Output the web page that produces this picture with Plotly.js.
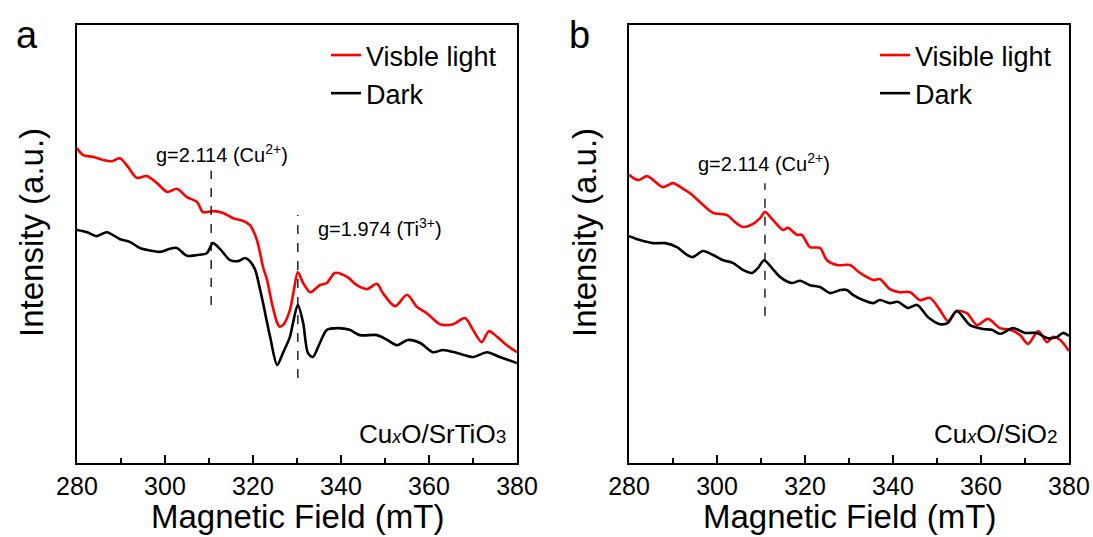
<!DOCTYPE html>
<html>
<head>
<meta charset="utf-8">
<script src="https://cdn.plot.ly/plotly-3.0.1.min.js"></script>
<style>html,body{margin:0;padding:0;background:#fff;}#chart{width:1093px;height:537px;}</style>
</head>
<body>
<div id="chart"></div>
<script>
// ---------- Panel a: CuxO/SrTiO3 ----------
const aLightField = [280,281.4,283.6,285.9,288.0,289.8,291.6,293.6,295.9,298.2,300.5,302.7,305.0,307.3,308.6,310.9,313.2,315.5,317.7,319.3,320.9,322.3,323.2,324.3,325.5,326.1,327.0,328.4,329.3,330.2,331.4,333.0,335.2,336.8,338.6,341.4,343.6,345.9,348.2,349.5,352.3,355.0,357.3,359.5,362.5,365.5,368.2,370.0,372.0,373.6,375.5,377.7,380];
const aLightInt   = [71.9,70.3,69.9,69.2,68.9,69.6,67.6,65.1,65.5,63.9,61.9,62.6,60.7,59.6,57.3,57.5,57.1,55.9,55.3,54.3,50.9,44.7,41.8,36.5,32.0,31.1,31.7,34.9,39.5,43.6,41.1,39.0,40.6,41.1,43.4,42.5,40.6,39.7,40.9,38.8,35.8,38.4,35.6,34.2,31.7,31.7,33.1,30.4,27.6,30.1,28.8,26.9,25.3];
const aDarkField  = [280,282.3,284.5,286.8,289.8,292.0,294.3,297.3,298.9,301.1,302.7,305.0,307.3,309.5,310.9,312.5,314.8,316.6,318.2,319.3,320.5,321.4,322.3,323.9,325.5,326.8,328.4,329.1,330.2,331.4,332.5,333.6,335.2,336.8,339.3,342.0,344.3,348.2,350.5,352.7,355.2,358.0,360.9,363.2,366.4,370.0,373.2,376.1,380];
const aDarkInt    = [53.2,52.7,51.8,52.7,51.1,50.5,49.1,48.4,48.2,48.9,49.1,47.3,47.5,47.9,50.2,48.9,46.3,46.1,46.8,46.1,44.1,40.6,36.5,28.8,22.4,25.1,28.8,32.0,36.1,32.0,25.1,24.2,27.4,30.4,30.8,30.4,29.2,29.2,28.1,26.9,28.1,27.4,25.3,25.8,25.1,24.2,25.3,24.2,22.8];

// ---------- Panel b: CuxO/SiO2 ----------
const bLightField = [280,282.0,284.1,285.5,287.7,290.0,292.3,293.9,296.1,299.1,302.3,304.1,305.9,308.2,309.8,310.9,312.7,315.0,316.1,318.2,319.3,321.1,323.4,325.0,327.3,330.2,332.5,335.5,337.0,339.3,341.6,343.9,346.1,348.4,350.7,352.5,354.5,356.8,359.1,361.6,364.3,366.6,368.9,370.7,373.0,375.0,376.4,378.0,380];
const bLightInt   = [65.8,64.6,65.5,64.6,63.0,63.9,62.6,61.6,59.6,57.1,56.6,55.0,53.9,54.6,55.9,57.3,55.5,53.2,53.7,52.1,52.1,49.3,49.1,46.3,45.2,45.2,43.4,41.8,42.0,39.7,39.0,39.0,37.2,37.7,34.9,32.4,34.7,34.2,31.5,32.9,30.8,30.4,29.2,27.2,30.1,27.6,28.8,28.1,25.6];
const bDarkField  = [280,282.5,285.5,288.2,290.9,293.2,294.5,296.8,299.1,301.4,303.6,305.9,308.0,309.3,310.7,312.5,314.3,317.0,318.9,321.1,323.4,325.7,328.0,329.5,330.9,333.2,335.5,337.0,339.3,341.1,343.4,345.5,348.0,350.7,352.5,354.5,357.5,360.5,362.5,364.3,367.3,370.0,372.7,375.2,377.3,378.6,380];
const bDarkInt    = [51.8,50.9,50.2,50.2,49.3,47.5,47.0,48.4,47.5,46.3,45.7,44.1,43.4,44.5,46.3,44.5,42.5,41.1,41.6,40.6,40.2,38.8,39.5,39.5,38.4,37.2,36.5,37.2,36.5,36.8,35.4,36.1,33.3,31.7,32.0,34.7,31.5,30.6,30.4,29.5,30.8,29.7,29.7,28.5,28.8,29.7,29.0];

// ---------- labels / markers ----------
const xTickVals = [280,300,320,340,360,380];
const seriesNames = ["Visible light","Dark"];
const seriesNamesA = ["Visble light","Dark"];
const aMarkers = [{field:310.5, from:36.1, to:66.7, label:"g=2.114 (Cu<sup>2+</sup>)"},
                  {field:330.2, from:19.4, to:56.6, label:"g=1.974 (Ti<sup>3+</sup>)"}];
const bMarkers = [{field:310.9, from:33.6, to:63.9, label:"g=2.114 (Cu<sup>2+</sup>)"}];

const FONT = "Liberation Sans, Arial, sans-serif";
const RED = "#ff0000", BLACK = "#000000";

function line(x, y, color, name, xa, ya, leg) {
  return {x, y, type:"scatter", mode:"lines", name, xaxis:xa, yaxis:ya, legend:leg,
          line:{color, width:2.6, shape:"spline", smoothing:0.8}};
}
const traces = [
  line(aLightField, aLightInt, RED, seriesNamesA[0], "x", "y", "legend"),
  line(aDarkField, aDarkInt, BLACK, seriesNamesA[1], "x", "y", "legend"),
  line(bLightField, bLightInt, RED, seriesNames[0], "x2", "y2", "legend2"),
  line(bDarkField, bDarkInt, BLACK, seriesNames[1], "x2", "y2", "legend2")
];

function xaxis(dom, anchor) {
  return {domain:dom, anchor, range:[280,380], tickvals:xTickVals, ticks:"inside", ticklen:8, tickwidth:1.5,
          tickcolor:"#000", showline:true, mirror:true, linecolor:"#000", linewidth:1.6, showgrid:false, zeroline:false,
          tickfont:{family:FONT, size:25, color:"#000"}, ticklabelstandoff:0,
          minor:{dtick:10, ticks:"inside", ticklen:5, tickwidth:1.5, tickcolor:"#000", showgrid:false}};
}
function yaxis(anchor) {
  return {domain:[0.1378,0.9534], anchor, range:[0,100], showticklabels:false, ticks:"", showline:true, mirror:true,
          linecolor:"#000", linewidth:1.6, showgrid:false, zeroline:false};
}

const shapes = [];
const annotations = [];
aMarkers.forEach(m => {
  shapes.push({type:"line", xref:"x", yref:"y", x0:m.field, x1:m.field, y0:m.from, y1:m.to, line:{color:"#000", width:1.3, dash:"dash"}});
});
bMarkers.forEach(m => {
  shapes.push({type:"line", xref:"x2", yref:"y2", x0:m.field, x1:m.field, y0:m.from, y1:m.to, line:{color:"#000", width:1.3, dash:"dash"}});
});
const gFont = {family:FONT, size:20, color:"#000"};
annotations.push({xref:"paper", yref:"paper", x:154/1093, y:1-153/537, xanchor:"left", yanchor:"middle", text:aMarkers[0].label, showarrow:false, font:gFont});
annotations.push({xref:"paper", yref:"paper", x:316/1093, y:1-227/537, xanchor:"left", yanchor:"middle", text:aMarkers[1].label, showarrow:false, font:gFont});
annotations.push({xref:"paper", yref:"paper", x:696/1093, y:1-163/537, xanchor:"left", yanchor:"middle", text:bMarkers[0].label, showarrow:false, font:gFont});

const sampFont = {family:FONT, size:26, color:"#000"};
annotations.push({xref:"paper", yref:"paper", x:508/1093, y:1-434/537, xanchor:"right", yanchor:"middle", showarrow:false, font:sampFont,
  text:"Cu<i><span style='font-size:18px'>x</span></i>O/SrTiO<span style='font-size:19px'>3</span>"});
annotations.push({xref:"paper", yref:"paper", x:1060/1093, y:1-434/537, xanchor:"right", yanchor:"middle", showarrow:false, font:sampFont,
  text:"Cu<i><span style='font-size:18px'>x</span></i>O/SiO<span style='font-size:19px'>2</span>"});

const titleFont = {family:FONT, size:33, color:"#000"};
annotations.push({xref:"paper", yref:"paper", x:297/1093, y:1-516/537, xanchor:"center", yanchor:"middle", showarrow:false, font:titleFont, text:"Magnetic Field (mT)"});
annotations.push({xref:"paper", yref:"paper", x:849/1093, y:1-516/537, xanchor:"center", yanchor:"middle", showarrow:false, font:titleFont, text:"Magnetic Field (mT)"});
annotations.push({xref:"paper", yref:"paper", x:32/1093, y:1-233/537, xanchor:"center", yanchor:"middle", showarrow:false, font:titleFont, text:"Intensity (a.u.)", textangle:-90});
annotations.push({xref:"paper", yref:"paper", x:585/1093, y:1-233/537, xanchor:"center", yanchor:"middle", showarrow:false, font:titleFont, text:"Intensity (a.u.)", textangle:-90});

const panelFont = {family:FONT, size:38, color:"#000"};
annotations.push({xref:"paper", yref:"paper", x:27/1093, y:1-35/537, xanchor:"center", yanchor:"middle", showarrow:false, font:panelFont, text:"a"});
annotations.push({xref:"paper", yref:"paper", x:579/1093, y:1-35/537, xanchor:"center", yanchor:"middle", showarrow:false, font:panelFont, text:"b"});

const legFont = {family:FONT, size:27, color:"#000"};
const layout = {
  width:1093, height:537, margin:{l:0, r:0, t:0, b:0},
  paper_bgcolor:"#fff", plot_bgcolor:"#fff",
  font:{family:FONT, color:"#000"},
  showlegend:true,
  xaxis: xaxis([0.0704,0.4730], "y"),
  yaxis: yaxis("x"),
  xaxis2: xaxis([0.5755,0.9780], "y2"),
  yaxis2: yaxis("x2"),
  legend:{x:326/1093, y:1-31/537, xanchor:"left", yanchor:"top", bgcolor:"rgba(0,0,0,0)", borderwidth:0, font:legFont, tracegroupgap:0},
  legend2:{x:875/1093, y:1-31/537, xanchor:"left", yanchor:"top", bgcolor:"rgba(0,0,0,0)", borderwidth:0, font:legFont, tracegroupgap:0},
  shapes, annotations
};
Plotly.newPlot("chart", traces, layout, {displayModeBar:false, staticPlot:true});
</script>
</body>
</html>
